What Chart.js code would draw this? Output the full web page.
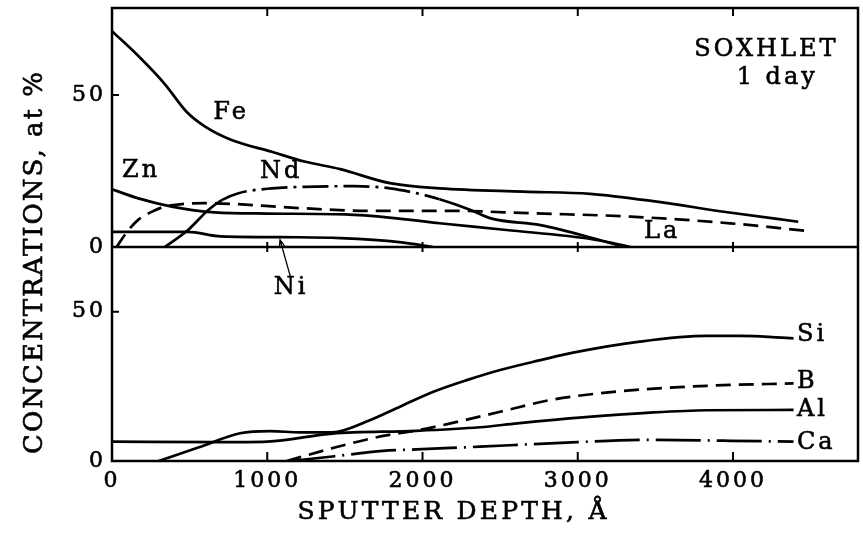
<!DOCTYPE html>
<html>
<head>
<meta charset="utf-8">
<script src="https://cdn.jsdelivr.net/npm/chart.js@4/dist/chart.umd.min.js"></script>
<style>
  html, body { margin: 0; padding: 0; background: #fff; }
</style>
</head>
<body>
<canvas id="depthChart" width="863" height="538"></canvas>
<script>
// tick labels
const xTicks = [0, 1000, 2000, 3000, 4000]
const yTicks = [0, 50]

// upper panel, [depth in A, at %]
const fe = [[0, 71], [170, 62.8], [340, 53.6], [480, 44.5], [600, 39.6], [770, 35.2], [1030, 31.3], [1240, 28.1], [1470, 25.6], [1790, 21.0], [2110, 19.3], [2650, 18.2], [3080, 17.5], [3510, 14.9], [3940, 11.6], [4420, 8.3]]
const zn = [[0, 19], [170, 16], [385, 13.3], [660, 11.4], [1000, 11.0], [1500, 10.7], [1800, 9.6], [2110, 7.8], [2540, 5.6], [3100, 2.5], [3340, 0]]
const nd = [[340, 0], [490, 5.6], [620, 12.2], [710, 15.5], [815, 17.7], [1030, 19.3], [1240, 19.8], [1560, 20.0], [1790, 19.3], [1960, 17.7], [2110, 15.7], [2310, 12.2], [2440, 9.4], [2760, 7.2], [3100, 2.9], [3300, 0]]
const ni = [[0, 5], [490, 5], [700, 3.5], [1210, 3.2], [1470, 2.9], [1850, 1.6], [2070, 0]]
const la = [[30, 0], [90, 4.5], [170, 9.0], [245, 11.3], [340, 13.3], [450, 14.1], [600, 14.4], [1210, 12.8], [1640, 11.9], [2180, 11.9], [2690, 11.1], [3340, 10.0], [3980, 7.8], [4460, 5.4]]

// lower panel
const si = [[300, 0], [560, 4.6], [825, 9.3], [1020, 10.0], [1210, 9.6], [1420, 9.6], [1640, 13.2], [1855, 18.2], [2070, 23.2], [2285, 27.1], [2500, 30.5], [2760, 33.8], [2970, 36.3], [3400, 40.0], [3830, 41.9], [4045, 41.9], [4390, 41.1]]
const b = [[1125, 0], [1420, 4.3], [1745, 8.4], [1960, 10.2], [2180, 12.6], [2500, 16.5], [2820, 20.4], [3140, 22.7], [3420, 24.0], [3830, 25.2], [4390, 26.0]]
const al = [[0, 6.5], [700, 6.3], [1000, 6.5], [1420, 9.2], [1960, 10.1], [2370, 11.3], [2610, 12.6], [3030, 14.6], [3465, 16.2], [3830, 17.0], [4390, 17.1]]
const ca = [[1150, 0], [1420, 1.5], [1745, 3.4], [1960, 3.9], [2370, 4.8], [2820, 5.9], [3470, 7.1], [3940, 6.8], [4390, 6.5]]

// text written in the plot: text, depth, value, axis, align
const notes = [
    ['Fe', 767, 44.1, 'yTop', 'center'],
    ['Zn', 187, 25.0, 'yTop', 'center'],
    ['Nd', 1089, 24.7, 'yTop', 'center'],
    ['La', 3543, 4.9, 'yTop', 'center'],
    ['Ni', 1153, 57.9, 'yBot', 'center'],
    ['SOXHLET', 4215, 64.8, 'yTop', 'center'],
    ['1 day', 4285, 55.6, 'yTop', 'center'],
    ['Si', 4412, 42.2, 'yBot', 'left'],
    ['B', 4412, 26.6, 'yBot', 'left'],
    ['Al', 4412, 17.1, 'yBot', 'left'],
    ['Ca', 4412, 6.0, 'yBot', 'left']
]

const dashed = [15, 8]
const ndDash = [26, 6, 3, 6]
const caDash = [45, 7, 2, 7]

function curve(label, pts, axis, dash) {
    return {
        label: label,
        yAxisID: axis,
        data: pts.map(p => ({ x: p[0], y: p[1] })),
        borderColor: '#000',
        borderWidth: 2.7,
        borderDash: dash || [],
        pointRadius: 0,
        fill: false,
        cubicInterpolationMode: 'monotone'
    }
}

const ndSet = curve('Nd', nd, 'yTop')
// Nd is solid where it rises and where it falls off, dash-dot in between
ndSet.segment = {
    borderDash: ctx => (ctx.p0.parsed.x >= 700 && ctx.p1.parsed.x <= 2110) ? ndDash : []
}

function fixTicks(list) {
    return scale => { scale.ticks = list.map(v => ({ value: v })) }
}

const tickFont = {
    padding: 6,
    color: '#000',
    textStrokeColor: '#000',
    textStrokeWidth: 0.6,
    callback: v => String(v)
}

function yAxis(weight, max) {
    return {
        type: 'linear',
        position: 'left',
        stack: 'panels',
        stackWeight: weight,
        min: 0,
        max: max,
        afterBuildTicks: fixTicks(yTicks),
        afterFit: scale => {
            scale.width = 112
            scale.paddingTop = 0
            scale.paddingBottom = 0
        },
        grid: { display: false, drawTicks: false },
        border: { display: false },
        ticks: tickFont
    }
}

function label(ctx, text, x, y) {
    ctx.strokeText(text, x, y)
    ctx.fillText(text, x, y)
}

const framePlugin = {
    id: 'frame',
    beforeDraw(chart) {
        chart.ctx.letterSpacing = '3px'
    },
    afterDraw(chart) {
        const ctx = chart.ctx
        const a = chart.chartArea
        const xs = chart.scales.x
        const top = chart.scales.yTop
        const bot = chart.scales.yBot
        const mid = top.getPixelForValue(0)

        ctx.save()
        ctx.strokeStyle = '#000'
        ctx.lineWidth = 2.5
        ctx.strokeRect(a.left, a.top, a.right - a.left, a.bottom - a.top)
        ctx.beginPath()
        ctx.moveTo(a.left, mid)
        ctx.lineTo(a.right, mid)
        ctx.stroke()

        // inward tick marks
        ctx.lineWidth = 2
        ctx.beginPath()
        xTicks.slice(1).forEach(v => {
            const px = xs.getPixelForValue(v)
            ctx.moveTo(px, a.top); ctx.lineTo(px, a.top + 8)
            ctx.moveTo(px, mid - 5); ctx.lineTo(px, mid + 5)
            ctx.moveTo(px, a.bottom); ctx.lineTo(px, a.bottom - 9)
        })
        ;[top, bot].forEach(s => {
            const py = s.getPixelForValue(50)
            ctx.moveTo(a.left, py); ctx.lineTo(a.left + 7, py)
        })
        ctx.stroke()

        // arrow from the Ni label to its curve
        const x0 = xs.getPixelForValue(1150), y0 = bot.getPixelForValue(61.6)
        const x1 = xs.getPixelForValue(1082), y1 = top.getPixelForValue(2.4)
        const ang = Math.atan2(y1 - y0, x1 - x0)
        ctx.lineWidth = 1.3
        ctx.beginPath()
        ctx.moveTo(x0, y0)
        ctx.lineTo(x1, y1)
        ctx.moveTo(x1 - 8 * Math.cos(ang - 0.35), y1 - 8 * Math.sin(ang - 0.35))
        ctx.lineTo(x1, y1)
        ctx.lineTo(x1 - 8 * Math.cos(ang + 0.35), y1 - 8 * Math.sin(ang + 0.35))
        ctx.stroke()

        ctx.fillStyle = '#000'
        ctx.lineWidth = 0.6
        ctx.textBaseline = 'middle'
        ctx.font = '24px "DejaVu Serif"'
        ctx.letterSpacing = '3px'
        notes.forEach(n => {
            ctx.textAlign = n[4]
            label(ctx, n[0], xs.getPixelForValue(n[1]), chart.scales[n[3]].getPixelForValue(n[2]))
        })

        // axis titles
        ctx.textAlign = 'center'
        ctx.font = '25px "DejaVu Serif"'
        ctx.letterSpacing = '3.2px'
        label(ctx, 'SPUTTER DEPTH, Å', xs.getPixelForValue(2200), 512)
        ctx.translate(35, 262)
        ctx.rotate(-Math.PI / 2)
        ctx.font = '26px "DejaVu Serif"'
        ctx.letterSpacing = '2px'
        label(ctx, 'CONCENTRATIONS, at %', 0, 0)
        ctx.restore()
    }
}

Chart.defaults.font.family = '"DejaVu Serif", serif'
Chart.defaults.font.size = 22
Chart.defaults.color = '#000'

new Chart(document.getElementById('depthChart'), {
    type: 'line',
    data: {
        datasets: [
            curve('Fe', fe, 'yTop'),
            curve('Zn', zn, 'yTop'),
            ndSet,
            curve('Ni', ni, 'yTop'),
            curve('La', la, 'yTop', dashed),
            curve('Si', si, 'yBot'),
            curve('B', b, 'yBot', dashed),
            curve('Al', al, 'yBot'),
            curve('Ca', ca, 'yBot', caDash)
        ]
    },
    options: {
        responsive: false,
        animation: false,
        devicePixelRatio: 1,
        layout: { padding: { top: 8, right: 5, left: 0, bottom: 0 } },
        plugins: {
            legend: { display: false },
            tooltip: { enabled: false }
        },
        scales: {
            x: {
                type: 'linear',
                min: 0,
                max: 4805,
                afterBuildTicks: fixTicks(xTicks),
                afterFit: scale => {
                    scale.height = 77
                    scale.paddingLeft = 0
                    scale.paddingRight = 0
                },
                grid: { display: false, drawTicks: false },
                border: { display: false },
                ticks: Object.assign({}, tickFont, { padding: 7 })
            },
            yBot: yAxis(214, 71.7),
            yTop: yAxis(239, 78.6)
        }
    },
    plugins: [framePlugin]
})
</script>
</body>
</html>
